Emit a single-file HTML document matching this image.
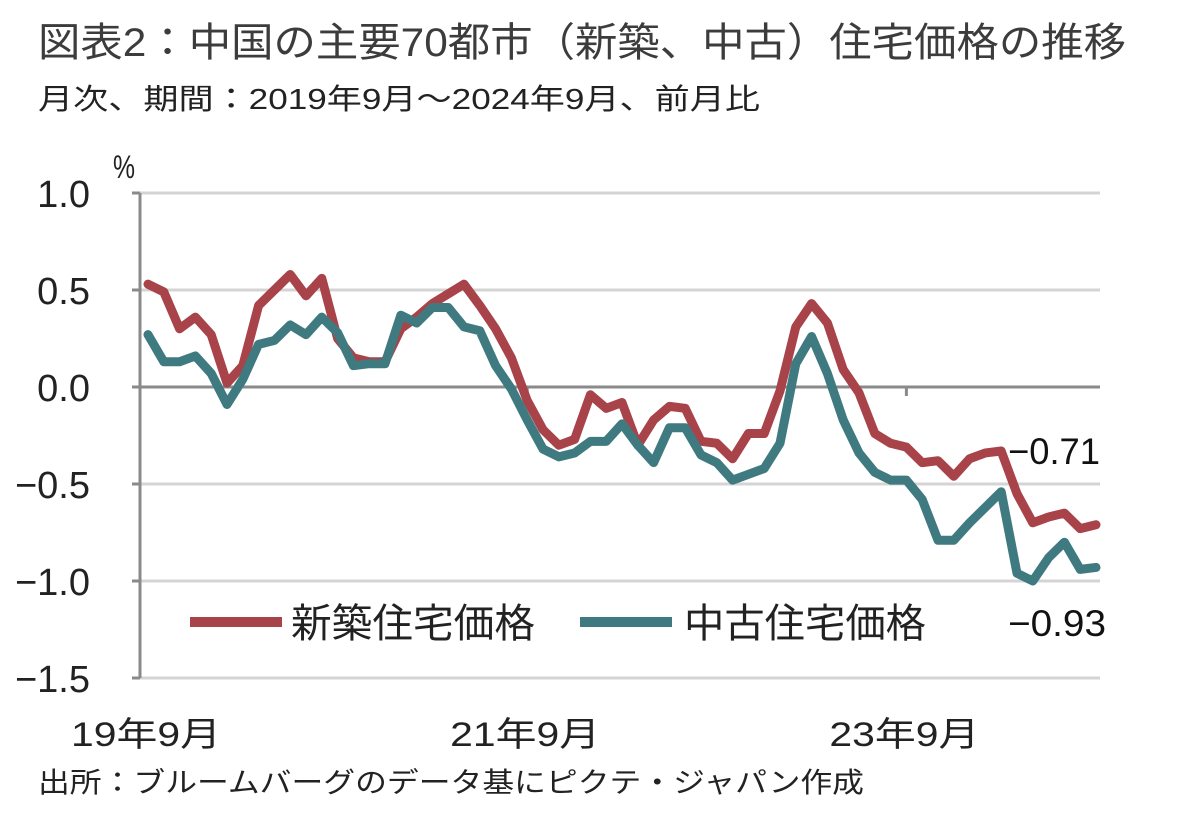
<!DOCTYPE html>
<html><head><meta charset="utf-8"><style>
html,body{margin:0;padding:0;background:#fff}
svg{display:block}
text{font-family:"Liberation Sans","Noto Sans CJK JP",sans-serif}
</style></head><body>
<svg id="chart" width="1200" height="813" viewBox="0 0 1200 813" xmlns="http://www.w3.org/2000/svg">
<text x="38" y="56" font-size="40" fill="#3c3c3c" textLength="1088" lengthAdjust="spacingAndGlyphs">図表2：中国の主要70都市（新築、中古）住宅価格の推移</text>
<text x="38" y="109" font-size="29" fill="#222" textLength="722" lengthAdjust="spacingAndGlyphs">月次、期間：2019年9月～2024年9月、前月比</text>
<text x="113" y="178" font-size="32" fill="#222" textLength="22" lengthAdjust="spacingAndGlyphs">%</text>
<g id="grid"></g>
<g id="axes"></g>
<g id="series"></g>
<text x="1008" y="464" font-size="37" fill="#111" textLength="92" lengthAdjust="spacingAndGlyphs">−0.71</text>
<text x="1008" y="636" font-size="37" fill="#111" textLength="98" lengthAdjust="spacingAndGlyphs">−0.93</text>
<g>
<line x1="190" y1="622" x2="282" y2="622" stroke="#a8434a" stroke-width="10"/>
<text x="291" y="637" font-size="40" fill="#222" textLength="244" lengthAdjust="spacingAndGlyphs">新築住宅価格</text>
<line x1="580" y1="622" x2="672" y2="622" stroke="#3f7a80" stroke-width="10"/>
<text x="684" y="637" font-size="40" fill="#222" textLength="242" lengthAdjust="spacingAndGlyphs">中古住宅価格</text>
</g>
<text x="38" y="792" font-size="28" fill="#222" textLength="826" lengthAdjust="spacingAndGlyphs">出所：ブルームバーグのデータ基にピクテ・ジャパン作成</text>
</svg>
<script>
const yTicks = [1.0, 0.5, 0.0, -0.5, -1.0, -1.5];
const yTickLabels = ["1.0", "0.5", "0.0", "-0.5", "-1.0", "-1.5"];
const xTickIndex = [0, 24, 48];
const xTickLabels = ["19年9月", "21年9月", "23年9月"];
const newHome = [0.53,0.49,0.30,0.36,0.27,0.02,0.11,0.42,0.50,0.58,0.47,0.56,0.25,0.15,0.13,0.13,0.30,0.36,0.43,0.48,0.53,0.42,0.30,0.15,-0.07,-0.22,-0.30,-0.27,-0.04,-0.11,-0.08,-0.30,-0.17,-0.10,-0.11,-0.28,-0.29,-0.37,-0.24,-0.24,-0.02,0.31,0.43,0.33,0.09,-0.03,-0.24,-0.29,-0.31,-0.39,-0.38,-0.46,-0.37,-0.34,-0.33,-0.55,-0.70,-0.67,-0.65,-0.73,-0.71];
const usedHome = [0.27,0.13,0.13,0.16,0.07,-0.09,0.04,0.22,0.24,0.32,0.27,0.36,0.28,0.11,0.12,0.12,0.37,0.33,0.41,0.41,0.31,0.29,0.11,-0.01,-0.17,-0.32,-0.36,-0.34,-0.28,-0.28,-0.19,-0.30,-0.39,-0.21,-0.21,-0.35,-0.39,-0.48,-0.45,-0.42,-0.29,0.12,0.26,0.07,-0.17,-0.34,-0.44,-0.48,-0.48,-0.58,-0.79,-0.79,-0.70,-0.62,-0.54,-0.96,-1.00,-0.88,-0.80,-0.94,-0.93];
const NS = "http://www.w3.org/2000/svg";
const X0 = 148, DX = 15.8, YZ = 387, SY = 194, LEFT = 140, RIGHT = 1100;
const xs = i => X0 + i * DX;
const ys = v => YZ - v * SY;
function mk(tag, attrs, parent) { const e = document.createElementNS(NS, tag); for (const k in attrs) e.setAttribute(k, attrs[k]); parent.appendChild(e); return e; }
const grid = document.getElementById('grid'), axes = document.getElementById('axes'), series = document.getElementById('series');
yTicks.forEach((t, k) => {
  const y = ys(t);
  const g = mk('line', {x1: LEFT, x2: RIGHT, y1: y, y2: y, stroke: t === 0 ? '#8a8a8a' : '#d4d4d4', 'stroke-width': 3}, t === 0 ? axes : grid);
  
  
  const tk = mk('line', {x1: LEFT - 8, x2: LEFT, y1: y, y2: y, stroke: '#8a8a8a', 'stroke-width': 3}, axes);
  
  
  const lbl = yTickLabels[k].replace('-', '−');
  const tx = mk('text', {x: 90, y: y + 14, 'font-size': 38, fill: '#222', 'text-anchor': 'end'}, axes);
  tx.textContent = lbl;
  
  
});
const ya = mk('line', {x1: LEFT, x2: LEFT, y1: ys(1.0), y2: ys(-1.5), stroke: '#8a8a8a', 'stroke-width': 3}, axes);


xTickIndex.forEach((idx, k) => {
  const x = xs(idx);
  if (idx > 0) {
    const tk = mk('line', {x1: x, x2: x, y1: YZ, y2: YZ + 9, stroke: '#8a8a8a', 'stroke-width': 3}, axes);
    
    
  }
  const tx = mk('text', {x: x - 2, y: 746, 'font-size': 34, fill: '#222', 'text-anchor': 'middle', textLength: 150, lengthAdjust: 'spacingAndGlyphs'}, axes);
  tx.textContent = xTickLabels[k];
  
  
});
function drawLine(arr, color, name) {
  const p = mk('polyline', {points: arr.map((v, i) => xs(i) + ',' + ys(v)).join(' '), fill: 'none', stroke: color, 'stroke-width': 9, 'stroke-linejoin': 'round', 'stroke-linecap': 'round'}, series);
  
  
}
drawLine(newHome, '#a8434a', 'line-new-home');
drawLine(usedHome, '#3f7a80', 'line-used-home');
</script>
</body></html>
